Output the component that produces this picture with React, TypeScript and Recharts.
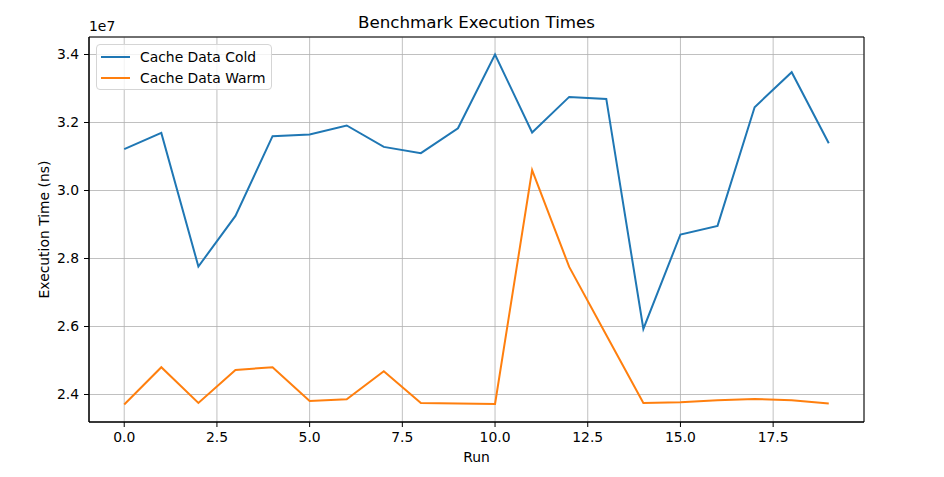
import React from "react";
import {
  LineChart,
  Line,
  XAxis,
  YAxis,
  CartesianGrid,
  ReferenceArea,
} from "recharts";

const runs = [0, 1, 2, 3, 4, 5, 6, 7, 8, 9, 10, 11, 12, 13, 14, 15, 16, 17, 18, 19];

const coldTimes = [
  31215000, 31694000, 27765000, 29253000, 31597000, 31647000, 31912000,
  31282000, 31097000, 31832000, 34000000, 31706000, 32753000, 32694000,
  25930000, 28706000, 28959000, 32450000, 33480000, 31391000,
];

const warmTimes = [
  23706000, 24803000, 23753000, 24724000, 24803000, 23812000, 23862000,
  24685000, 23753000, 23735000, 23724000, 30597000, 27753000, 25753000,
  23753000, 23774000, 23833000, 23871000, 23833000, 23735000,
];

const xTicks = [0, 2.5, 5, 7.5, 10, 12.5, 15, 17.5];
const yTicks = [24e6, 26e6, 28e6, 30e6, 32e6, 34e6];

const seriesNames = ["Cache Data Cold", "Cache Data Warm"];
const seriesColors = ["#1f77b4", "#ff7f0e"];

const FONT = "'DejaVu Sans', sans-serif";

const data = runs.map((run, i) => ({
  run,
  cold: coldTimes[i],
  warm: warmTimes[i],
}));

// matplotlib-style 5% margins
const allVals = [...coldTimes, ...warmTimes];
const yLo = Math.min(...allVals);
const yHi = Math.max(...allVals);
const yPad = (yHi - yLo) * 0.05;
const yDomain: [number, number] = [yLo - yPad, yHi + yPad];
const xPad = (runs[runs.length - 1] - runs[0]) * 0.05;
const xDomain: [number, number] = [runs[0] - xPad, runs[runs.length - 1] + xPad];

export default function App() {
  return (
    <div
      style={{
        position: "absolute",
        left: 0,
        top: 0,
        width: 944,
        height: 477,
        background: "#fff",
        fontFamily: FONT,
      }}
    >
      <LineChart
        width={944}
        height={477}
        data={data}
        margin={{ top: 37, right: 80, bottom: 15, left: 29 }}
      >
        <CartesianGrid stroke="#b0b0b0" strokeWidth={0.8} />
        <XAxis
          dataKey="run"
          type="number"
          domain={xDomain}
          ticks={xTicks}
          allowDataOverflow
          height={40}
          tickSize={5}
          tickMargin={5}
          tickFormatter={(v: number) => v.toFixed(1)}
          stroke="#000"
          tick={{ fill: "#000", fontSize: 13.9, fontFamily: FONT }}
          label={{
            content: () => (
              <text
                x={476.5}
                y={462}
                textAnchor="middle"
                fontSize={13.9}
                fontFamily={FONT}
                fill="#000"
              >
                Run
              </text>
            ),
          }}
        />
        <YAxis
          type="number"
          domain={yDomain}
          ticks={yTicks}
          allowDataOverflow
          width={60}
          tickSize={5}
          tickMargin={5}
          tickFormatter={(v: number) => (v / 1e7).toFixed(1)}
          stroke="#000"
          tick={{ fill: "#000", fontSize: 13.9, fontFamily: FONT }}
          label={{
            content: () => (
              <text
                x={44}
                y={229.5}
                transform="rotate(-90 44 229.5)"
                textAnchor="middle"
                dominantBaseline="central"
                fontSize={13.9}
                fontFamily={FONT}
                fill="#000"
              >
                Execution Time (ns)
              </text>
            ),
          }}
        />
        <ReferenceArea
          x1={xDomain[0]}
          x2={xDomain[1]}
          y1={yDomain[0]}
          y2={yDomain[1]}
          fill="none"
          fillOpacity={0}
          stroke="#000"
          strokeWidth={1}
          ifOverflow="visible"
        />
        <Line
          type="linear"
          dataKey="cold"
          stroke={seriesColors[0]}
          strokeWidth={2}
          dot={false}
          isAnimationActive={false}
        />
        <Line
          type="linear"
          dataKey="warm"
          stroke={seriesColors[1]}
          strokeWidth={2}
          dot={false}
          isAnimationActive={false}
        />
      </LineChart>

      <div
        style={{
          position: "absolute",
          left: 89,
          width: 775,
          top: 12,
          textAlign: "center",
          fontSize: 16.7,
          color: "#000",
        }}
      >
        Benchmark Execution Times
      </div>
      <div style={{ position: "absolute", left: 89, top: 18, fontSize: 13.9 }}>
        1e7
      </div>

      <div
        style={{
          position: "absolute",
          left: 96,
          top: 44,
          width: 174,
          height: 44,
          border: "1px solid #d5d5d5",
          borderRadius: 4,
          background: "rgba(255,255,255,0.8)",
        }}
      >
        {seriesNames.map((name, i) => (
          <div
            key={name}
            style={{
              position: "absolute",
              left: 0,
              top: 2 + i * 20.5,
              height: 20,
              display: "flex",
              alignItems: "center",
              fontSize: 13.9,
              whiteSpace: "nowrap",
            }}
          >
            <span
              style={{
                display: "inline-block",
                marginLeft: 4,
                width: 29,
                height: 2,
                background: seriesColors[i],
              }}
            />
            <span style={{ marginLeft: 10 }}>{name}</span>
          </div>
        ))}
      </div>
    </div>
  );
}
